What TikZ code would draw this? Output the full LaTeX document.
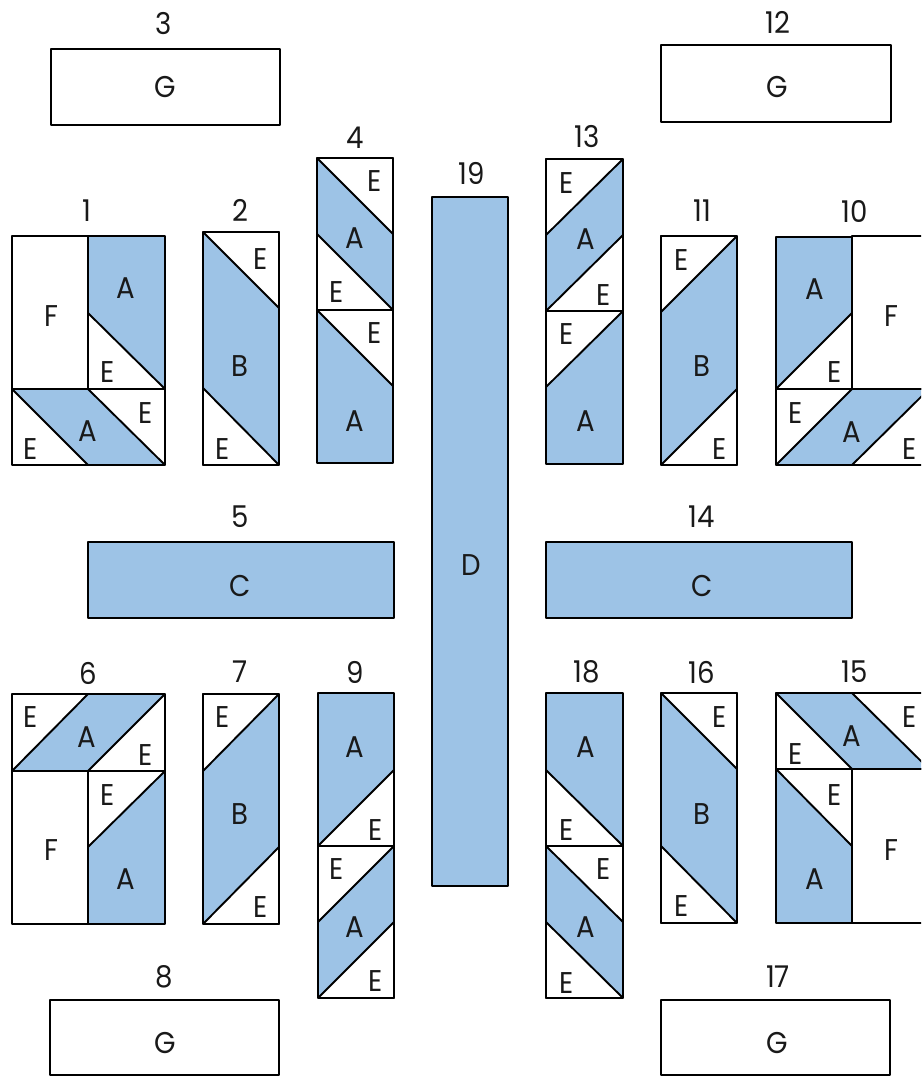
\documentclass[tikz,border=0pt]{standalone}
\usepackage{fontspec}
\setmainfont{Poppins}[FakeStretch=0.92]
\definecolor{patch}{HTML}{9DC3E6}
\tikzset{
  every picture/.style={x=1pt,y=-1pt},
  seam/.style={draw=black,line width=1.9pt,line join=bevel},
  blue/.style={seam,fill=patch},
  plain/.style={seam,fill=white},
  lab/.style={inner sep=0pt,font=\fontsize{30}{30}\selectfont,text=black!90}
}
\newcommand{\lbl}[4]{\node[lab] (#1) at (#2,#3) {#4};}
\begin{document}
\begin{tikzpicture}
\useasboundingbox (0,0) rectangle (921,1076);
\clip (0,0) rectangle (921,1076);
\fill[white] (0,0) rectangle (921,1076);

% large plain and solid pieces
\draw[plain] (51,49) rectangle (280,125);
\draw[plain] (661,45) rectangle (891,122);
\draw[plain] (50,1000) rectangle (279,1075);
\draw[plain] (661,1000) rectangle (890,1075);
\draw[blue] (432,197) rectangle (508,886);
\draw[blue] (88,542) rectangle (394,618);
\draw[blue] (546,542) rectangle (852,618);

% block 1
\draw[plain] (12,236) rectangle (88,389);
\draw[blue] (88,236) rectangle (165,389);
\draw[plain] (88,313) -- (165,389) -- (88,389) -- cycle;
\draw[plain] (12,389) rectangle (165,465);
\draw[blue] (12,389) -- (88,389) -- (165,465) -- (88,465) -- cycle;
% block 2
\draw[blue] (203,232) rectangle (279,465);
\draw[plain] (203,232) -- (279,232) -- (279,308) -- cycle;
\draw[plain] (203,388) -- (279,465) -- (203,465) -- cycle;
% block 4
\draw[blue] (317,158) rectangle (393,310);
\draw[plain] (317,158) -- (393,158) -- (393,234) -- cycle;
\draw[plain] (317,234) -- (393,310) -- (317,310) -- cycle;
\draw[blue] (317,310) rectangle (393,463);
\draw[plain] (317,310) -- (393,310) -- (393,386) -- cycle;
% block 13
\draw[blue] (546,159) rectangle (623,311);
\draw[plain] (546,159) -- (623,159) -- (546,235) -- cycle;
\draw[plain] (623,235) -- (623,311) -- (546,311) -- cycle;
\draw[blue] (546,311) rectangle (623,464);
\draw[plain] (546,311) -- (623,311) -- (546,387) -- cycle;
% block 11
\draw[blue] (661,236) rectangle (737,465);
\draw[plain] (661,236) -- (737,236) -- (661,312) -- cycle;
\draw[plain] (737,389) -- (737,465) -- (661,465) -- cycle;
% block 10
\draw[plain] (852,236) rectangle (929,389);
\draw[blue] (776,237) rectangle (852,389);
\draw[plain] (852,313) -- (852,389) -- (776,389) -- cycle;
\draw[plain] (776,389) rectangle (929,465);
\draw[blue] (776,465) -- (852,389) -- (929,389) -- (852,465) -- cycle;
% block 6
\draw[plain] (12,694) rectangle (165,771);
\draw[blue] (12,771) -- (88,694) -- (165,694) -- (88,771) -- cycle;
\draw[plain] (12,771) rectangle (88,924);
\draw[blue] (88,771) rectangle (165,924);
\draw[plain] (88,771) -- (165,771) -- (88,847) -- cycle;
% block 7
\draw[blue] (203,694) rectangle (279,924);
\draw[plain] (203,694) -- (279,694) -- (203,771) -- cycle;
\draw[plain] (279,847) -- (279,924) -- (203,924) -- cycle;
% block 9
\draw[blue] (318,693) rectangle (394,846);
\draw[plain] (394,770) -- (394,846) -- (318,846) -- cycle;
\draw[blue] (318,846) rectangle (394,998);
\draw[plain] (318,846) -- (394,846) -- (318,922) -- cycle;
\draw[plain] (394,922) -- (394,998) -- (318,998) -- cycle;
% block 18
\draw[blue] (546,693) rectangle (623,846);
\draw[plain] (546,770) -- (623,846) -- (546,846) -- cycle;
\draw[blue] (546,846) rectangle (623,998);
\draw[plain] (546,846) -- (623,846) -- (623,922) -- cycle;
\draw[plain] (546,922) -- (623,998) -- (546,998) -- cycle;
% block 16
\draw[blue] (661,693) rectangle (737,923);
\draw[plain] (661,693) -- (737,693) -- (737,769) -- cycle;
\draw[plain] (661,846) -- (737,923) -- (661,923) -- cycle;
% block 15
\draw[plain] (776,693) rectangle (929,769);
\draw[blue] (776,693) -- (852,693) -- (929,769) -- (852,769) -- cycle;
\draw[plain] (852,769) rectangle (929,923);
\draw[blue] (776,769) rectangle (852,923);
\draw[plain] (776,769) -- (852,769) -- (852,846) -- cycle;

% numbers
\lbl{n1}{87}{211}{1}
\lbl{n2}{240}{210}{2}
\lbl{n3}{164}{24}{3}
\lbl{n4}{355}{138}{4}
\lbl{n5}{240}{517}{5}
\lbl{n6}{88}{673}{6}
\lbl{n7}{240}{672}{7}
\lbl{n8}{164}{977}{8}
\lbl{n9}{355}{672}{9}
\lbl{n10}{855}{211}{10}
\lbl{n11}{702}{211}{11}
\lbl{n12}{778}{22}{12}
\lbl{n13}{587}{137}{13}
\lbl{n14}{702}{517}{14}
\lbl{n15}{855}{672}{15}
\lbl{n16}{702}{672}{16}
\lbl{n17}{778}{977}{17}
\lbl{n18}{587}{672}{18}
\lbl{n19}{472}{173}{19}

% letters
\lbl{g3}{165}{87}{G}
\lbl{g12}{777}{87}{G}
\lbl{g8}{165}{1043}{G}
\lbl{g17}{777}{1043}{G}
\lbl{c5}{240}{586}{C}
\lbl{c14}{702}{586}{C}
\lbl{d19}{471}{565}{D}

\lbl{a1f}{51}{316}{F}
\lbl{a1a}{126}{288}{A}
\lbl{a1e}{108}{372}{E}
\lbl{a1g}{146}{413}{E}
\lbl{a1b}{88}{431}{A}
\lbl{a1h}{31}{449}{E}

\lbl{a2e}{261}{259}{E}
\lbl{a2b}{240}{366}{B}
\lbl{a2f}{223}{449}{E}

\lbl{a4e}{375}{181}{E}
\lbl{a4a}{355}{238}{A}
\lbl{a4f}{337}{292}{E}
\lbl{a4g}{375}{333}{E}
\lbl{a4b}{355}{421}{A}

\lbl{a13e}{567}{183}{E}
\lbl{a13a}{586}{239}{A}
\lbl{a13f}{604}{295}{E}
\lbl{a13g}{567}{334}{E}
\lbl{a13b}{586}{421}{A}

\lbl{a11e}{682}{260}{E}
\lbl{a11b}{702}{366}{B}
\lbl{a11f}{720}{449}{E}

\lbl{a10a}{815}{289}{A}
\lbl{a10f}{891}{316}{F}
\lbl{a10e}{835}{372}{E}
\lbl{a10g}{796}{413}{E}
\lbl{a10b}{852}{432}{A}
\lbl{a10h}{910}{449}{E}

\lbl{a6e}{31}{717}{E}
\lbl{a6a}{87}{737}{A}
\lbl{a6g}{146}{755}{E}
\lbl{a6h}{108}{795}{E}
\lbl{a6f}{51}{850}{F}
\lbl{a6b}{126}{879}{A}

\lbl{a7e}{223}{717}{E}
\lbl{a7b}{240}{814}{B}
\lbl{a7f}{261}{907}{E}

\lbl{a9a}{355}{747}{A}
\lbl{a9e}{376}{830}{E}
\lbl{a9f}{337}{869}{E}
\lbl{a9b}{355}{927}{A}
\lbl{a9g}{376}{981}{E}

\lbl{a18a}{586}{747}{A}
\lbl{a18e}{567}{830}{E}
\lbl{a18f}{604}{869}{E}
\lbl{a18b}{586}{927}{A}
\lbl{a18g}{567}{983}{E}

\lbl{a16e}{720}{717}{E}
\lbl{a16b}{702}{814}{B}
\lbl{a16f}{682}{906}{E}

\lbl{a15e}{910}{717}{E}
\lbl{a15a}{852}{736}{A}
\lbl{a15f}{796}{754}{E}
\lbl{a15g}{835}{795}{E}
\lbl{a15h}{891}{850}{F}
\lbl{a15b}{815}{879}{A}
\end{tikzpicture}
\end{document}
